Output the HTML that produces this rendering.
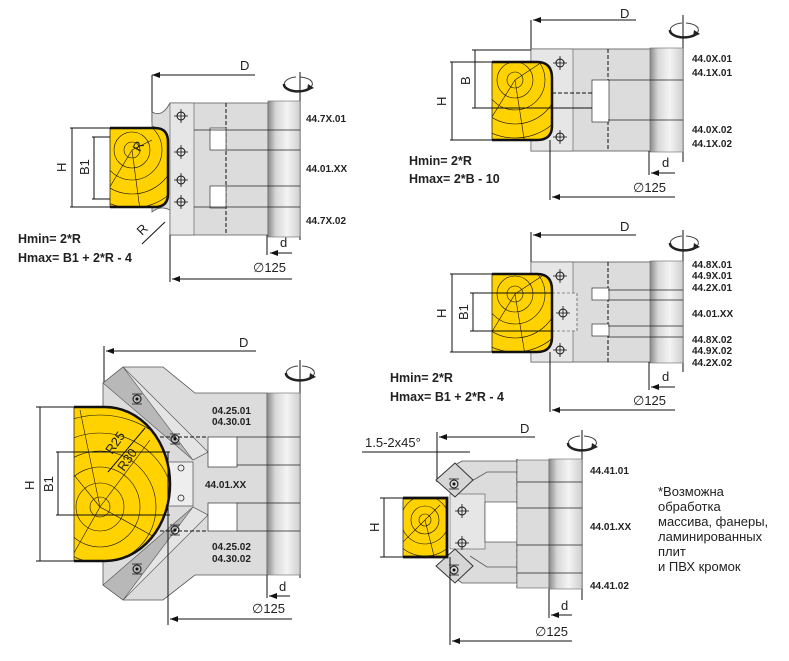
<!DOCTYPE html>
<html><head><meta charset="utf-8"><style>
html,body{margin:0;padding:0;background:#fff;}
svg{display:block;font-family:"Liberation Sans",Arial,sans-serif;}
.lb{font-size:10px;font-weight:bold;fill:#222;}
.dm{font-size:13px;fill:#222;}
.hm{font-size:12.5px;font-weight:bold;fill:#222;}
.ln{stroke:#111;stroke-width:1;fill:none;}
.ds{stroke:#111;stroke-width:1;fill:none;stroke-dasharray:4 2;}
.bd{fill:#dcdcdc;stroke:#555;stroke-width:0.8;}
.wp{fill:#ffd200;stroke:#111;stroke-width:0.7;}
.gr{stroke:#111;stroke-width:0.6;fill:none;}
</style></head><body>
<svg width="789" height="661" viewBox="0 0 789 661" xmlns="http://www.w3.org/2000/svg">
<defs>
<linearGradient id="cyl" x1="0" x2="1" y1="0" y2="0">
<stop offset="0" stop-color="#8a8a8a"/><stop offset="0.25" stop-color="#d8d8d8"/><stop offset="0.6" stop-color="#f4f4f4"/><stop offset="1" stop-color="#cfcfcf"/></linearGradient>
<marker id="ar" markerWidth="8" markerHeight="6" refX="0" refY="3" orient="auto"><path d="M8,0 L0,3 L8,6 z" fill="#111"/></marker>
<g id="rot"><path d="M-2,-7 A14,7 0 1 0 12,-4" fill="none" stroke="#444" stroke-width="1"/><path d="M2,-7 A14,7 0 0 1 14,-2" fill="none" stroke="#444" stroke-width="1"/><path d="M-14,0 A14,7 0 0 0 12,4" fill="none" stroke="#222" stroke-width="2.5"/><path d="M10,0 l6,4 -7,3z" fill="#222"/></g>
<g id="hole"><circle r="4" fill="none" stroke="#111"/><path d="M-7,0H7M0,-7V7" stroke="#111" stroke-width="0.8"/></g>
<g id="sq"><circle r="4" fill="none" stroke="#111"/><circle r="1.5" fill="#111"/><path d="M-5,-5 h10 M-5,5 h10" stroke="#111" stroke-width="0.8"/></g>
<clipPath id="c1"><path d="M110,128 H155 Q168,128 168,142 V194 Q168,207 155,207 H110z"/></clipPath>
<clipPath id="c2"><path d="M492,62 H537 Q552,62 552,78 V126 Q552,140 537,140 H492z"/></clipPath>
<clipPath id="c3"><path d="M492,274 H537 Q552,274 552,290 V337 Q552,352 537,352 H492z"/></clipPath>
<clipPath id="c4"><path d="M74,407 H105 A65,77 0 0 1 105,561 H74z"/></clipPath>
<clipPath id="c5"><rect x="403" y="498" width="44" height="59"/></clipPath>
</defs>

<!-- ===== Diagram 1 ===== -->
<line class="ln" x1="152" y1="75" x2="152" y2="122"/>
<line class="ln" x1="152" y1="75" x2="255" y2="75" marker-start="url(#ar)"/>
<text class="dm" x="240" y="70">D</text>
<line class="ln" x1="300" y1="72" x2="300" y2="240"/>
<use href="#rot" x="298" y="84"/>
<path class="bd" d="M170,103 H268 V235 H170 V210 Q160,205 152,212 V200 Q165,200 168,186 V145 Q165,130 152,126 V112 Q162,118 170,103z"/>
<rect x="170" y="103" width="24" height="132" fill="#e6e6e6" stroke="#555" stroke-width="0.6"/>
<line class="ds" x1="226" y1="103" x2="226" y2="235"/>
<rect x="210" y="128" width="16" height="22" fill="#fff" stroke="#333" stroke-width="0.7"/>
<rect x="210" y="186" width="16" height="22" fill="#fff" stroke="#333" stroke-width="0.7"/>
<rect x="268" y="101" width="32" height="136" fill="url(#cyl)" stroke="#666" stroke-width="0.6"/>
<g stroke="#222" stroke-width="0.8"><line x1="194" y1="130" x2="300" y2="130"/><line x1="226" y1="150" x2="300" y2="150"/><line x1="226" y1="186" x2="300" y2="186"/><line x1="194" y1="207" x2="300" y2="207"/></g>
<use href="#hole" x="181" y="116"/><use href="#hole" x="181" y="152"/><use href="#hole" x="181" y="180"/><use href="#hole" x="181" y="202"/>
<path class="wp" d="M110,128 H155 Q168,128 168,142 V194 Q168,207 155,207 H110z"/>
<g class="gr" clip-path="url(#c1)"><circle cx="132" cy="150" r="8"/><circle cx="132" cy="150" r="18"/><circle cx="132" cy="150" r="30"/><circle cx="132" cy="150" r="44"/><circle cx="132" cy="150" r="58"/><line x1="132" y1="150" x2="152" y2="140"/><line x1="132" y1="150" x2="140" y2="210"/><line x1="132" y1="150" x2="108" y2="190"/></g>
<path d="M110,128 H155 Q168,128 168,142 V194 Q168,207 155,207 H110" fill="none" stroke="#111" stroke-width="2.5"/>
<text class="dm" x="136" y="150" transform="rotate(-60 140 148)">R</text>
<line class="ln" x1="70" y1="128" x2="110" y2="128"/><line class="ln" x1="70" y1="207" x2="110" y2="207"/>
<line class="ln" x1="72" y1="128" x2="72" y2="207"/>
<line class="ln" x1="92" y1="137" x2="110" y2="137"/><line class="ln" x1="92" y1="199" x2="110" y2="199"/>
<line class="ln" x1="94" y1="137" x2="94" y2="199"/>
<text class="dm" transform="translate(66,172) rotate(-90)">H</text>
<text class="dm" transform="translate(89,175) rotate(-90)">B1</text>
<line class="ln" x1="142" y1="244" x2="165" y2="222"/>
<text class="dm" transform="translate(142,236) rotate(-45)">R</text>
<text class="hm" x="18" y="243">Hmin= 2*R</text>
<text class="hm" x="18" y="262">Hmax= B1 + 2*R - 4</text>
<line class="ln" x1="267" y1="235" x2="267" y2="255"/>
<line class="ln" x1="270" y1="253" x2="292" y2="253" marker-start="url(#ar)"/>
<text class="dm" x="280" y="247">d</text>
<text class="dm" x="253" y="272">∅125</text>
<line class="ln" x1="170" y1="235" x2="170" y2="282"/>
<line class="ln" x1="172" y1="279" x2="292" y2="279" marker-start="url(#ar)"/>
<text class="lb" x="306" y="122">44.7X.01</text>
<text class="lb" x="306" y="172">44.01.XX</text>
<text class="lb" x="306" y="224">44.7X.02</text>

<!-- ===== Diagram 2 ===== -->
<line class="ln" x1="531" y1="20" x2="531" y2="49"/>
<line class="ln" x1="533" y1="20" x2="636" y2="20" marker-start="url(#ar)"/>
<text class="dm" x="620" y="18">D</text>
<line class="ln" x1="683" y1="15" x2="683" y2="162"/>
<use href="#rot" x="684" y="30"/>
<rect class="bd" x="531" y="49" width="120" height="102"/>
<rect x="531" y="49" width="42" height="102" fill="#e6e6e6" stroke="#555" stroke-width="0.6"/>
<line class="ds" x1="608" y1="49" x2="608" y2="151"/>
<rect x="592" y="80" width="17" height="42" fill="#fff" stroke="#333" stroke-width="0.7"/>
<line class="ds" x1="552" y1="93" x2="592" y2="93"/>
<line class="ln" x1="552" y1="108" x2="592" y2="108" stroke="#555"/>
<rect x="650" y="48" width="33" height="104" fill="url(#cyl)" stroke="#666" stroke-width="0.6"/>
<g stroke="#222" stroke-width="0.8"><line x1="608" y1="80" x2="683" y2="80"/><line x1="608" y1="120" x2="683" y2="120"/></g>
<use href="#hole" x="560" y="63"/><use href="#hole" x="560" y="137"/>
<path class="wp" d="M492,62 H537 Q552,62 552,78 V126 Q552,140 537,140 H492z"/>
<g class="gr" clip-path="url(#c2)"><circle cx="515" cy="80" r="8"/><circle cx="515" cy="80" r="18"/><circle cx="515" cy="80" r="30"/><circle cx="515" cy="80" r="44"/><circle cx="515" cy="80" r="58"/><line x1="515" y1="80" x2="525" y2="145"/><line x1="515" y1="80" x2="545" y2="60"/><line x1="515" y1="80" x2="490" y2="120"/></g>
<path d="M492,62 H537 Q552,62 552,78 V126 Q552,140 537,140 H492" fill="none" stroke="#111" stroke-width="2.5"/>
<line class="ln" x1="472" y1="50" x2="531" y2="50"/><line class="ln" x1="472" y1="108" x2="552" y2="108"/>
<line class="ln" x1="475" y1="50" x2="475" y2="108"/>
<line class="ln" x1="450" y1="62" x2="492" y2="62"/><line class="ln" x1="450" y1="140" x2="492" y2="140"/>
<line class="ln" x1="452" y1="62" x2="452" y2="140"/>
<text class="dm" transform="translate(470,85) rotate(-90)">B</text>
<text class="dm" transform="translate(446,106) rotate(-90)">H</text>
<text class="hm" x="409" y="165">Hmin= 2*R</text>
<text class="hm" x="409" y="183">Hmax= 2*B - 10</text>
<line class="ln" x1="550" y1="140" x2="550" y2="200"/>
<line class="ln" x1="552" y1="197" x2="675" y2="197" marker-start="url(#ar)"/>
<line class="ln" x1="649" y1="151" x2="649" y2="175"/>
<line class="ln" x1="651" y1="173" x2="675" y2="173" marker-start="url(#ar)"/>
<text class="dm" x="662" y="167">d</text>
<text class="dm" x="633" y="192">∅125</text>
<text class="lb" x="692" y="62">44.0X.01</text>
<text class="lb" x="692" y="76">44.1X.01</text>
<text class="lb" x="692" y="133">44.0X.02</text>
<text class="lb" x="692" y="147">44.1X.02</text>

<!-- ===== Diagram 3 ===== -->
<line class="ln" x1="531" y1="232" x2="531" y2="262"/>
<line class="ln" x1="533" y1="235" x2="636" y2="235" marker-start="url(#ar)"/>
<text class="dm" x="620" y="231">D</text>
<line class="ln" x1="683" y1="230" x2="683" y2="372"/>
<use href="#rot" x="684" y="243"/>
<rect class="bd" x="531" y="262" width="120" height="100"/>
<rect x="531" y="262" width="42" height="100" fill="#e6e6e6" stroke="#555" stroke-width="0.6"/>
<line class="ds" x1="608" y1="262" x2="608" y2="362"/>
<rect x="592" y="288" width="17" height="12" fill="#fff" stroke="#333" stroke-width="0.7"/>
<rect x="592" y="324" width="17" height="12" fill="#fff" stroke="#333" stroke-width="0.7"/>
<rect x="552" y="293" width="25" height="38" fill="#e6e6e6" stroke="#333" stroke-width="0.6" stroke-dasharray="3 2"/>
<rect x="650" y="261" width="33" height="102" fill="url(#cyl)" stroke="#666" stroke-width="0.6"/>
<g stroke="#222" stroke-width="0.8"><line x1="608" y1="290" x2="683" y2="290"/><line x1="608" y1="300" x2="683" y2="300"/><line x1="608" y1="326" x2="683" y2="326"/><line x1="608" y1="337" x2="683" y2="337"/></g>
<use href="#hole" x="560" y="276"/><use href="#hole" x="563" y="313"/><use href="#hole" x="560" y="350"/>
<path class="wp" d="M492,274 H537 Q552,274 552,290 V337 Q552,352 537,352 H492z"/>
<g class="gr" clip-path="url(#c3)"><circle cx="515" cy="294" r="8"/><circle cx="515" cy="294" r="18"/><circle cx="515" cy="294" r="30"/><circle cx="515" cy="294" r="44"/><circle cx="515" cy="294" r="58"/><line x1="515" y1="294" x2="525" y2="355"/><line x1="515" y1="294" x2="545" y2="274"/><line x1="515" y1="294" x2="490" y2="335"/></g>
<path d="M492,274 H537 Q552,274 552,290 V337 Q552,352 537,352 H492" fill="none" stroke="#111" stroke-width="2.5"/>
<line class="ln" x1="450" y1="274" x2="492" y2="274"/><line class="ln" x1="450" y1="352" x2="492" y2="352"/>
<line class="ln" x1="452" y1="274" x2="452" y2="352"/>
<line class="ln" x1="470" y1="293" x2="552" y2="293"/><line class="ln" x1="470" y1="331" x2="552" y2="331"/>
<line class="ln" x1="473" y1="293" x2="473" y2="331"/>
<text class="dm" transform="translate(446,318) rotate(-90)">H</text>
<text class="dm" transform="translate(468,320) rotate(-90)">B1</text>
<text class="hm" x="390" y="382">Hmin= 2*R</text>
<text class="hm" x="390" y="401">Hmax= B1 + 2*R - 4</text>
<line class="ln" x1="550" y1="352" x2="550" y2="412"/>
<line class="ln" x1="552" y1="410" x2="675" y2="410" marker-start="url(#ar)"/>
<line class="ln" x1="649" y1="362" x2="649" y2="390"/>
<line class="ln" x1="651" y1="387" x2="675" y2="387" marker-start="url(#ar)"/>
<text class="dm" x="662" y="381">d</text>
<text class="dm" x="633" y="405">∅125</text>
<text class="lb" x="692" y="268">44.8X.01</text>
<text class="lb" x="692" y="279">44.9X.01</text>
<text class="lb" x="692" y="291">44.2X.01</text>
<text class="lb" x="692" y="317">44.01.XX</text>
<text class="lb" x="692" y="343">44.8X.02</text>
<text class="lb" x="692" y="354">44.9X.02</text>
<text class="lb" x="692" y="366">44.2X.02</text>

<!-- ===== Diagram 4 ===== -->
<line class="ln" x1="104" y1="346" x2="104" y2="405"/>
<line class="ln" x1="106" y1="351" x2="256" y2="351" marker-start="url(#ar)"/>
<text class="dm" x="239" y="347">D</text>
<line class="ln" x1="300" y1="360" x2="300" y2="578"/>
<use href="#rot" x="300" y="373"/>
<path class="bd" d="M103,407 V383 L123,367 H163 L195,393 H267 V575 H195 L163,600 H123 L103,585 V561 Z"/>
<path d="M103,383 L123,367 L208,452 L193,460 Z" fill="#b8b8b8" stroke="#555" stroke-width="0.6"/>
<path d="M103,585 L123,600 L208,515 L193,507 Z" fill="#b8b8b8" stroke="#555" stroke-width="0.6"/>
<path d="M123,367 L208,452 L193,460 Z M123,600 L208,515 L193,507 Z" fill="#e4e4e4" stroke="#555" stroke-width="0.6"/>
<rect x="168" y="462" width="25" height="44" fill="#eee" stroke="#333" stroke-width="0.6"/>
<rect x="208" y="437" width="29" height="30" fill="#fff" stroke="#333" stroke-width="0.7"/>
<rect x="208" y="503" width="29" height="28" fill="#fff" stroke="#333" stroke-width="0.7"/>
<line class="ds" x1="160" y1="437" x2="208" y2="437"/><line class="ds" x1="160" y1="531" x2="208" y2="531"/>
<rect x="267" y="393" width="33" height="182" fill="url(#cyl)" stroke="#666" stroke-width="0.6"/>
<g stroke="#222" stroke-width="0.8"><line x1="237" y1="437" x2="300" y2="437"/><line x1="237" y1="465" x2="300" y2="465"/><line x1="237" y1="503" x2="300" y2="503"/><line x1="237" y1="531" x2="300" y2="531"/></g>
<use href="#sq" x="137" y="399"/><use href="#sq" x="137" y="569"/><use href="#sq" x="175" y="439"/><use href="#sq" x="175" y="530"/>
<g stroke="#222" fill="none" stroke-width="0.8"><circle cx="181" cy="468" r="3"/><circle cx="181" cy="498" r="3"/></g>
<path class="wp" d="M74,407 H105 A65,77 0 0 1 105,561 H74z"/>
<g class="gr" clip-path="url(#c4)"><circle cx="100" cy="507" r="10"/><circle cx="100" cy="507" r="24"/><circle cx="100" cy="507" r="40"/><circle cx="100" cy="507" r="56"/><circle cx="100" cy="507" r="74"/><circle cx="100" cy="507" r="92"/><line x1="100" y1="507" x2="150" y2="440"/><line x1="100" y1="507" x2="160" y2="540"/><line x1="100" y1="507" x2="80" y2="410"/><line x1="100" y1="507" x2="70" y2="560"/><line x1="100" y1="507" x2="70" y2="470"/></g>
<path d="M74,407 H105 A65,77 0 0 1 105,561 H74" fill="none" stroke="#111" stroke-width="2.5"/>
<line class="ln" x1="108" y1="472" x2="145" y2="428"/>
<text class="dm" transform="translate(112,455) rotate(-55)">R25</text>
<text class="dm" transform="translate(124,472) rotate(-55)">R30</text>
<line class="ln" x1="36" y1="407" x2="74" y2="407"/><line class="ln" x1="36" y1="561" x2="74" y2="561"/>
<line class="ln" x1="40" y1="407" x2="40" y2="561"/>
<line class="ln" x1="56" y1="452" x2="170" y2="452"/><line class="ln" x1="56" y1="515" x2="170" y2="515"/>
<line class="ln" x1="58" y1="452" x2="58" y2="515"/>
<text class="dm" transform="translate(34,490) rotate(-90)">H</text>
<text class="dm" transform="translate(53,492) rotate(-90)">B1</text>
<line class="ln" x1="168" y1="452" x2="168" y2="625"/>
<line class="ln" x1="170" y1="619" x2="292" y2="619" marker-start="url(#ar)"/>
<line class="ln" x1="267" y1="575" x2="267" y2="598"/>
<line class="ln" x1="269" y1="596" x2="290" y2="596" marker-start="url(#ar)"/>
<text class="dm" x="279" y="591">d</text>
<text class="dm" x="252" y="613">∅125</text>
<text class="lb" x="212" y="414">04.25.01</text>
<text class="lb" x="212" y="425">04.30.01</text>
<text class="lb" x="205" y="488">44.01.XX</text>
<text class="lb" x="212" y="550">04.25.02</text>
<text class="lb" x="212" y="562">04.30.02</text>

<!-- ===== Diagram 5 ===== -->
<text class="dm" x="365" y="447">1.5-2x45°</text>
<line class="ln" x1="362" y1="452" x2="470" y2="452"/>
<line class="ln" x1="437" y1="432" x2="437" y2="482"/>
<line class="ln" x1="439" y1="437" x2="535" y2="437" marker-start="url(#ar)"/>
<text class="dm" x="520" y="433">D</text>
<line class="ln" x1="582" y1="430" x2="582" y2="600"/>
<use href="#rot" x="582" y="443"/>
<path class="bd" d="M455,465 L462,461 H517 V583 H462 L455,578 Z"/>
<path d="M470,482 L487,472 H517 M470,556 L487,567 H517" stroke="#555" fill="none" stroke-width="0.8"/>
<rect x="450" y="494" width="35" height="55" fill="#e6e6e6" stroke="#555" stroke-width="0.6"/>
<rect x="485" y="502" width="32" height="40" fill="#fff" stroke="#333" stroke-width="0.6"/>
<line class="ds" x1="517" y1="459" x2="517" y2="588"/>
<rect x="517" y="460" width="32" height="128" fill="#dcdcdc" stroke="#555" stroke-width="0.6"/>
<rect x="549" y="459" width="33" height="130" fill="url(#cyl)" stroke="#666" stroke-width="0.6"/>
<g stroke="#222" stroke-width="0.8"><line x1="517" y1="482" x2="582" y2="482"/><line x1="517" y1="508" x2="582" y2="508"/><line x1="517" y1="545" x2="582" y2="545"/><line x1="517" y1="573" x2="582" y2="573"/></g>
<path d="M436,480 L455,463 L473,480 L455,497Z" fill="#d6d6d6" stroke="#333"/>
<path d="M436,566 L455,549 L473,566 L455,583Z" fill="#d6d6d6" stroke="#333"/>
<use href="#sq" x="454" y="484"/><use href="#sq" x="454" y="570"/>
<use href="#hole" x="462" y="511"/><use href="#hole" x="462" y="543"/>
<rect class="wp" x="403" y="498" width="44" height="59"/>
<g class="gr" clip-path="url(#c5)"><circle cx="425" cy="520" r="6"/><circle cx="425" cy="520" r="14"/><circle cx="425" cy="520" r="24"/><circle cx="425" cy="520" r="36"/><line x1="425" y1="520" x2="440" y2="505"/><line x1="425" y1="520" x2="435" y2="560"/><line x1="425" y1="520" x2="400" y2="545"/></g>
<path d="M403,498 H447 V557 H403" fill="none" stroke="#111" stroke-width="2.8"/>
<line class="ln" x1="380" y1="498" x2="403" y2="498"/><line class="ln" x1="380" y1="557" x2="403" y2="557"/>
<line class="ln" x1="384" y1="498" x2="384" y2="557"/>
<text class="dm" transform="translate(379,532) rotate(-90)">H</text>
<line class="ln" x1="450" y1="557" x2="450" y2="645"/>
<line class="ln" x1="452" y1="641" x2="572" y2="641" marker-start="url(#ar)"/>
<line class="ln" x1="549" y1="589" x2="549" y2="618"/>
<line class="ln" x1="551" y1="615" x2="572" y2="615" marker-start="url(#ar)"/>
<text class="dm" x="561" y="610">d</text>
<text class="dm" x="535" y="636">∅125</text>
<text class="lb" x="590" y="474">44.41.01</text>
<text class="lb" x="590" y="530">44.01.XX</text>
<text class="lb" x="590" y="589">44.41.02</text>

<g font-size="13" fill="#222"><text x="658" y="496">*Возможна</text><text x="658" y="511">обработка</text><text x="658" y="526">массива, фанеры,</text><text x="658" y="541">ламинированных</text><text x="658" y="556">плит</text><text x="658" y="571">и ПВХ кромок</text></g>
</svg>
</body></html>
